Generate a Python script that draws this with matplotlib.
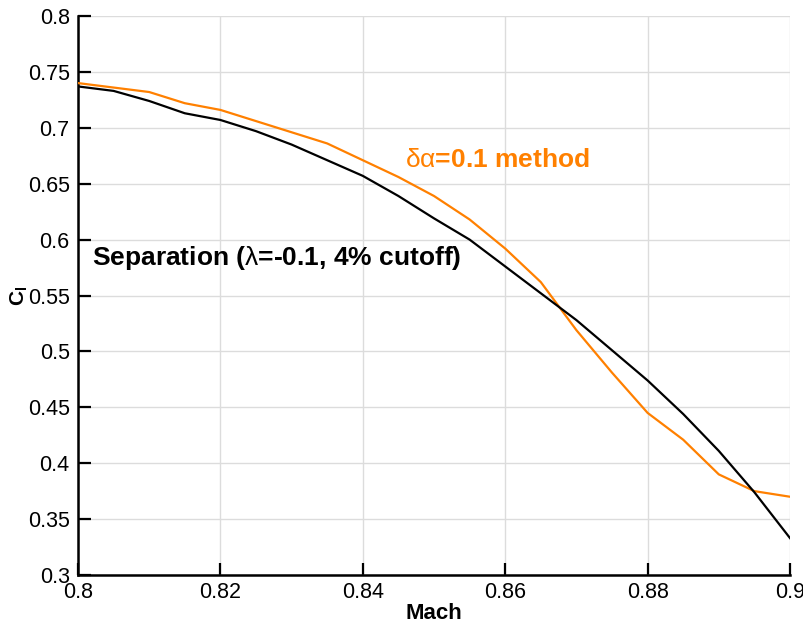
import numpy as np
import matplotlib
matplotlib.use('Agg')
import matplotlib.pyplot as plt

plt.rcParams['font.family'] = ['Liberation Sans', 'DejaVu Sans']
plt.rcParams['mathtext.fontset'] = 'custom'
plt.rcParams['mathtext.rm'] = 'Liberation Sans'
plt.rcParams['mathtext.it'] = 'Liberation Sans'
plt.rcParams['mathtext.bf'] = 'Liberation Sans:bold'

# Mach sweep
mach = [0.800, 0.805, 0.810, 0.815, 0.820, 0.825, 0.830, 0.835, 0.840, 0.845,
        0.850, 0.855, 0.860, 0.865, 0.870, 0.875, 0.880, 0.885, 0.890, 0.895, 0.900]

# Cl, separation criterion (lambda=-0.1, 4% cutoff)
cl_sep = [0.737, 0.733, 0.724, 0.713, 0.707, 0.697, 0.685, 0.671, 0.657, 0.639,
          0.619, 0.600, 0.576, 0.552, 0.528, 0.501, 0.474, 0.444, 0.411, 0.374, 0.333]

# Cl, delta alpha = 0.1 method
cl_dalpha = [0.740, 0.736, 0.732, 0.722, 0.716, 0.706, 0.696, 0.686, 0.671, 0.656,
             0.639, 0.618, 0.592, 0.562, 0.519, 0.481, 0.445, 0.421, 0.390, 0.375, 0.370]

orange = '#ff8000'

fig = plt.figure(figsize=(8.04, 6.23), dpi=100)
ax = fig.add_axes([78/804, 48/623, 712/804, 559/623])

ax.plot(mach, cl_dalpha, color=orange, lw=1.6, zorder=3)
ax.plot(mach, cl_sep, color='black', lw=1.6, zorder=4)

ax.set_xlim(0.8, 0.9)
ax.set_ylim(0.3, 0.8)
ax.set_xticks(np.arange(0.8, 0.9001, 0.02))
ax.set_yticks(np.arange(0.3, 0.8001, 0.05))
ax.set_xticklabels(['0.8', '0.82', '0.84', '0.86', '0.88', '0.9'])
ax.set_yticklabels(['0.3', '0.35', '0.4', '0.45', '0.5', '0.55', '0.6', '0.65', '0.7', '0.75', '0.8'])

ax.grid(True, color='#dcdcdc', lw=1.0, zorder=0)
ax.set_axisbelow(True)
for s in ['top', 'right']:
    ax.spines[s].set_visible(False)
for s in ['left', 'bottom']:
    ax.spines[s].set_linewidth(1.8)

ax.tick_params(direction='in', length=9, width=1.6, labelsize=15.5, pad=5)
ax.tick_params(axis='y', pad=6)

ax.set_xlabel('Mach', fontsize=16, fontweight='bold', labelpad=0)
ax.set_ylabel(r'$\mathbf{C_l}$', fontsize=15)
ax.yaxis.set_label_coords(-0.068, 0.5)

ax.text(92/804, 1 - 258/623, r'Separation ($\mathrm{\lambda}$=-0.1, 4% cutoff)',
        transform=fig.transFigure, fontsize=19, fontweight='bold', va='center', ha='left')
ax.text(405/804, 1 - 160/623, r'$\mathrm{\delta\alpha}$=0.1 method',
        transform=fig.transFigure, fontsize=19, fontweight='bold', color=orange,
        va='center', ha='left')

for lab in ax.get_xticklabels() + ax.get_yticklabels():
    lab.set_clip_on(False)

fig.savefig('out.png', dpi=100)
